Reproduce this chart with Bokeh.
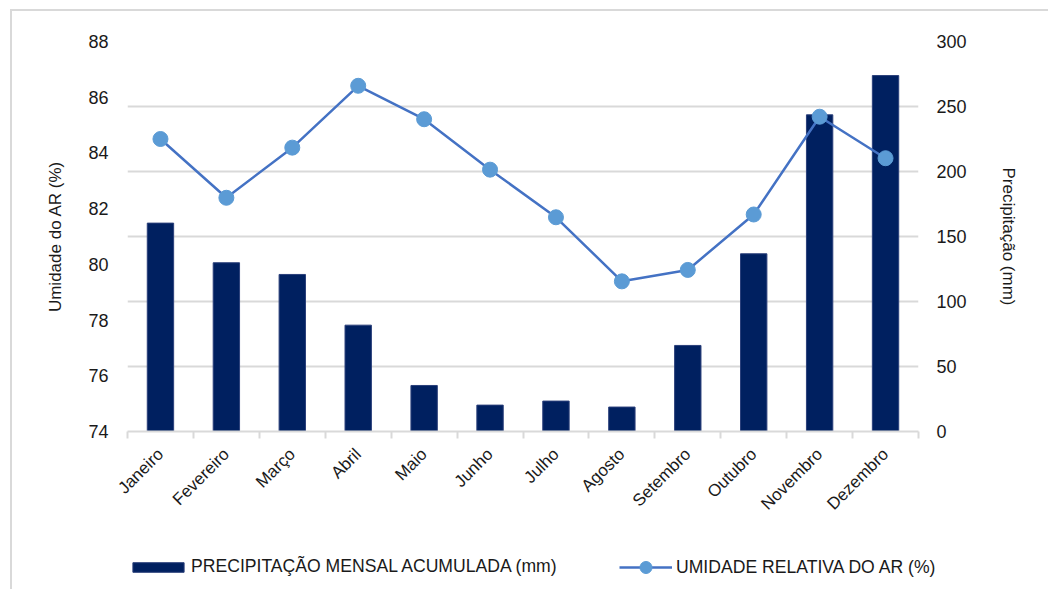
import math
from bokeh.plotting import figure
from bokeh.layouts import column
from bokeh.models import (Range1d, LinearAxis, FixedTicker, Grid, Legend, LegendItem,
                          ColumnDataSource)
from bokeh.embed import file_html
from bokeh.resources import INLINE

meses = ["Janeiro", "Fevereiro", "Março", "Abril", "Maio", "Junho", "Julho",
         "Agosto", "Setembro", "Outubro", "Novembro", "Dezembro"]
precipitacao = [160.3, 129.8, 120.8, 81.8, 35.4, 20.3, 23.4, 18.8, 66.2, 136.7, 243.6, 273.8]
umidade = [84.50, 82.39, 84.19, 86.41, 85.21, 83.40, 81.69, 79.39, 79.80, 81.79, 85.30, 83.81]
ticks_umidade = [74, 76, 78, 80, 82, 84, 86, 88]
ticks_prec = [0, 50, 100, 150, 200, 250, 300]
legenda = ["PRECIPITAÇÃO MENSAL ACUMULADA (mm)", "UMIDADE RELATIVA DO AR (%)"]

FONT = "Liberation Sans"
TXT = "#1a1a1a"
GRID = "#d9d9d9"
BAR = "#002060"
BAR_EDGE = "#2a3f7a"
LINE = "#4472C4"
MARK = "#5B9BD5"

xs = [i + 0.5 for i in range(len(meses))]
src = ColumnDataSource(dict(x=xs, mes=meses, prec=precipitacao, umid=umidade))

p = figure(width=1036, height=530, output_backend="svg", toolbar_location=None,
           x_range=Range1d(0, 12), y_range=Range1d(74, 88),
           min_border_left=115, min_border_right=130, min_border_top=30, min_border_bottom=110)
p.frame_align = False
p.extra_y_ranges = {"prec": Range1d(0, 300)}
p.outline_line_color = None
p.background_fill_color = "white"
p.border_fill_color = "white"
p.xgrid.visible = False
p.ygrid.visible = False

prec_ticker = FixedTicker(ticks=ticks_prec)
p.add_layout(Grid(dimension=1, ticker=prec_ticker, y_range_name="prec",
                  grid_line_color=GRID, grid_line_width=2))

bars = p.vbar(x="x", top="prec", bottom=0, width=0.4, source=src, y_range_name="prec",
              fill_color=BAR, line_color=BAR_EDGE, line_width=1)
line = p.line("x", "umid", source=src, line_color=LINE, line_width=2.5)
pts = p.scatter("x", "umid", source=src, size=15, marker="circle",
                fill_color=MARK, line_color=MARK)

# x axis
xa = p.xaxis[0]
xa.ticker = FixedTicker(ticks=xs, minor_ticks=list(range(13)))
xa.major_label_overrides = {x: m for x, m in zip(xs, meses)}
xa.major_label_orientation = math.pi / 4
xa.major_tick_line_color = None
xa.major_tick_out = 6
xa.minor_tick_line_color = GRID
xa.minor_tick_line_width = 2
xa.minor_tick_out = 7
xa.minor_tick_in = 0
xa.axis_line_color = GRID
xa.axis_line_width = 2
xa.major_label_text_font = FONT
xa.major_label_text_font_size = "17px"
xa.major_label_text_color = TXT
xa.major_label_standoff = 13

# left axis
ya = p.yaxis[0]
ya.ticker = FixedTicker(ticks=ticks_umidade)
ya.axis_line_color = None
ya.major_tick_line_color = None
ya.major_tick_out = 0
ya.major_tick_in = 0
ya.minor_tick_line_color = None
ya.major_label_text_font = FONT
ya.major_label_text_font_size = "18px"
ya.major_label_text_color = TXT
ya.major_label_standoff = 19
ya.axis_label = "Umidade do AR (%)"
ya.axis_label_text_font = FONT
ya.axis_label_text_font_size = "17px"
ya.axis_label_text_font_style = "normal"
ya.axis_label_text_color = TXT
ya.axis_label_standoff = 20

# right axis
ra = LinearAxis(y_range_name="prec", ticker=prec_ticker)
ra.axis_line_color = None
ra.major_tick_line_color = None
ra.major_tick_out = 0
ra.major_tick_in = 0
ra.minor_tick_line_color = None
ra.major_label_text_font = FONT
ra.major_label_text_font_size = "18px"
ra.major_label_text_color = TXT
ra.major_label_standoff = 18
ra.axis_label = "Precipitação (mm)"
ra.axis_label_text_font = FONT
ra.axis_label_text_font_size = "17px"
ra.axis_label_text_font_style = "normal"
ra.axis_label_text_color = TXT
ra.axis_label_standoff = 29
p.add_layout(ra, "right")

# legend strip: its own small figure (frame = whole strip) so nothing is clipped;
# its renderers share the data but the view range keeps them out of sight
lg = figure(width=1036, height=48, output_backend="svg", toolbar_location=None,
            x_range=Range1d(-100, -99), y_range=Range1d(0, 1),
            x_axis_location=None, y_axis_location=None,
            min_border_left=0, min_border_right=0, min_border_top=0, min_border_bottom=0)
lg.frame_align = False
lg.outline_line_color = None
lg.xgrid.visible = False
lg.ygrid.visible = False
lbar = lg.vbar(x="x", top="prec", bottom=0, width=0.4, source=src,
               fill_color=BAR, line_color=BAR_EDGE, line_width=1)
lline = lg.line("x", "umid", source=src, line_color=LINE, line_width=2.5)
lpts = lg.scatter("x", "umid", source=src, size=12, marker="circle",
                  fill_color=MARK, line_color=MARK)

common = dict(orientation="horizontal", padding=0, margin=0, border_line_color=None,
              background_fill_alpha=0, label_text_font=FONT, label_text_font_size="17.6px",
              label_text_color=TXT)
leg1 = Legend(items=[LegendItem(label=legenda[0], renderers=[lbar])],
              location=(114, 12), glyph_width=64, glyph_height=12, label_height=12,
              label_standoff=1, **common)
leg2 = Legend(items=[LegendItem(label=legenda[1], renderers=[lline, lpts])],
              location=(607, 7), glyph_width=53, glyph_height=30, label_height=30,
              label_standoff=4, **common)
lg.add_layout(leg1, "center")
lg.add_layout(leg2, "center")

layout = column(p, lg, spacing=0)
layout.margin = (9, 0, 0, 10)
layout.styles = {"border-top": "2px solid #d9d9d9", "border-left": "2px solid #d9d9d9"}

open("out.html", "w").write(file_html(layout, INLINE))
